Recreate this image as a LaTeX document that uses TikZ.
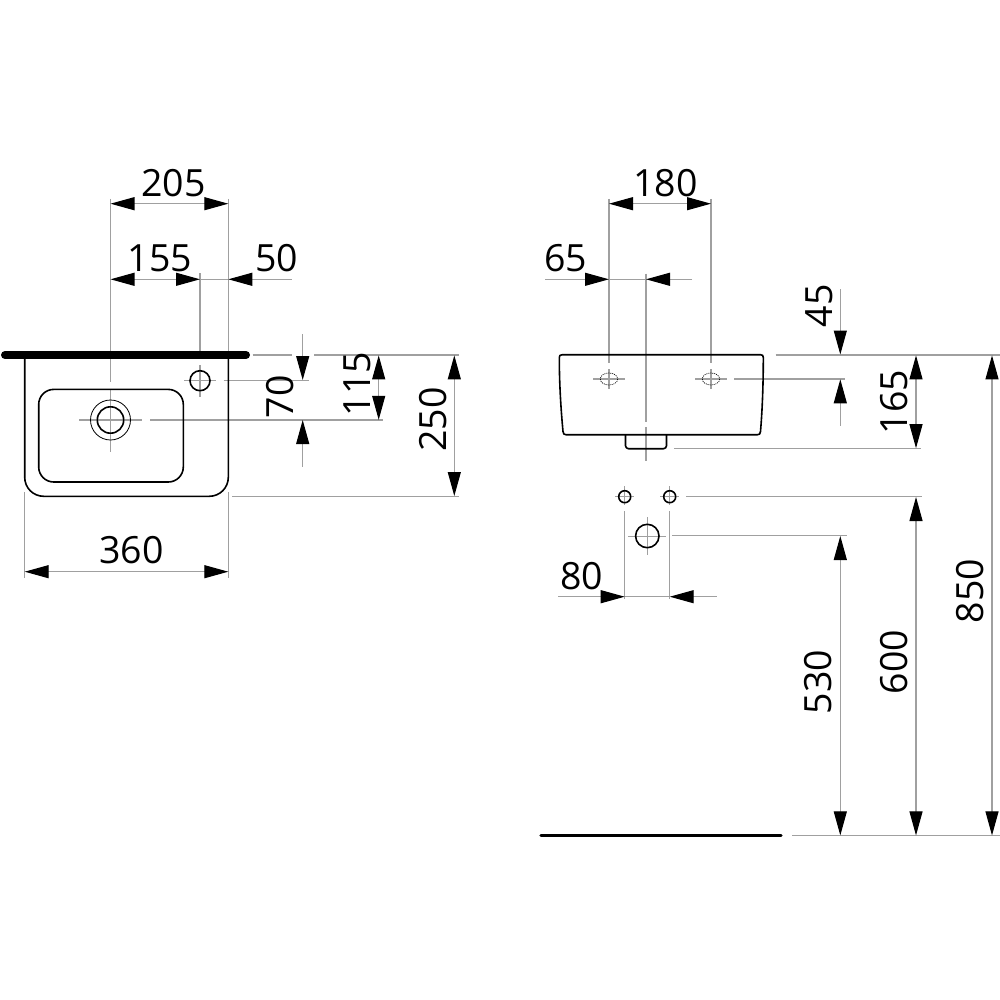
\documentclass[tikz,border=0pt]{standalone}
\usepackage{fontspec}
\setmainfont{Open Sans}
\usetikzlibrary{arrows.meta}
\definecolor{dimgrey}{HTML}{A0A0A0}
\tikzset{
  x=1pt,y=-1pt,
  ext/.style={draw=dimgrey,line width=1.1pt},
  fine/.style={draw=dimgrey,line width=0.8pt},
  tip/.tip={Triangle[length=24pt,width=13pt,color=black,fill=black]},
  dimboth/.style={ext,tip-tip,shorten >=0pt,shorten <=0pt},
  dimto/.style={ext,-tip},
  outline/.style={draw=black,line width=1.6pt,line join=round},
  thin outline/.style={draw=black,line width=0.8pt},
  dotted outline/.style={draw=black,line width=0.7pt,dash pattern=on 1pt off 1pt},
  num/.style={inner sep=0pt,font=\fontsize{37.5}{40}\selectfont},
  vnum/.style={num,rotate=90},
}
\begin{document}
\begin{tikzpicture}
\useasboundingbox[fill=white] (0,0) rectangle (1000,1000);

%% ---------- left view: plan ----------
\draw[ext] (110.5,199) -- (110.5,382);
\draw[ext] (228.3,199) -- (228.3,355);
\draw[ext] (200,273) -- (200,355);
\draw[ext] (24.7,492) -- (24.7,578);
\draw[ext] (228.3,492) -- (228.3,578);
% axes
\draw[ext] (79,420) -- (142,420);
\draw[ext] (150,420) -- (382.7,420);
\draw[ext] (110.5,390) -- (110.5,451.7);
\draw[ext] (184.3,380.7) -- (215.7,380.7);
\draw[ext] (223.7,380.7) -- (308.7,380.7);
\draw[ext] (200,365) -- (200,396.7);
\draw[ext] (252.7,355) -- (291.7,355);
\draw[ext] (314,355) -- (459,355);
\draw[ext] (232,496.3) -- (459,496.3);
% basin
\draw[outline,rounded corners=19pt] (24.7,355) -- (24.7,496.3) -- (228.3,496.3) -- (228.3,355);
\draw[outline,rounded corners=15pt] (110,389.4) -- (183.3,389.4) -- (183.3,482) -- (38.7,482) -- (38.7,389.4) -- cycle;
\draw[outline] (110.5,420) circle (13.2);
\draw[thin outline] (110.5,420) circle (20);
\draw[outline] (200,380.7) circle (10);
\draw[black,line width=8pt,line cap=round] (5,355) -- (246,355);
% dimensions
\draw[dimboth] (110.5,203.7) -- (228.3,203.7);
\draw[dimboth] (110.5,279.3) -- (200,279.3);
\draw[ext] (200,279.3) -- (228.3,279.3);
\draw[dimto] (291.7,279.3) -- (228.3,279.3);
\draw[dimboth] (24.7,571.7) -- (228.3,571.7);
\draw[dimto] (302.7,334) -- (302.7,380);
\draw[dimto] (302.7,466.7) -- (302.7,420);
\draw[dimboth] (378.7,355.4) -- (378.7,419.8);
\draw[dimboth] (454.3,355.4) -- (454.3,496);
\node[num] (t205) at (173.5,183) {205};
\node[num] (t155) at (160,258) {155};
\node[num] (t50) at (276.5,258) {50};
\node[num] (t360) at (131.5,550.5) {360};
\node[vnum] (t70) at (280.5,397) {70};
\node[vnum] (t115) at (357,384) {115};
\node[vnum] (t250) at (433,419.5) {250};

%% ---------- right view: elevation ----------
\draw[ext] (609,199) -- (609,362.7);
\draw[ext] (711,199) -- (711,362.7);
\draw[ext] (646,273.7) -- (646,421.7);
\draw[ext] (646,427) -- (646,460.7);
\draw[ext] (593.3,379) -- (625,379);
\draw[ext] (609,369.3) -- (609,388.7);
\draw[ext] (695,379) -- (726.7,379);
\draw[ext] (711,369.3) -- (711,388.7);
\draw[ext] (734,379) -- (845,379);
\draw[ext] (775.7,355) -- (1000,355);
\draw[ext] (674,448.3) -- (920.7,448.3);
\draw[ext] (686,496.3) -- (921.7,496.3);
\draw[ext] (672,535.7) -- (846.7,535.7);
\draw[ext] (792.3,835.7) -- (1000,835.7);
\draw[outline] (562.5,354.7) -- (760.3,354.7)
   .. controls (762.5,354.7) and (763.3,355.5) .. (763.3,357.5)
   .. controls (763.3,385) and (762.3,410) .. (760.5,431.5)
   .. controls (760.2,434) and (759.5,434.7) .. (757.5,434.7) -- (566,434.7)
   .. controls (564,434.7) and (563.3,434) .. (563,431.5)
   .. controls (561,410) and (559.3,385) .. (559.3,357.5)
   .. controls (559.3,355.5) and (560,354.7) .. (562.5,354.7) -- cycle;
\draw[outline,rounded corners=3pt] (625.5,434.7) -- (625.5,448.7) -- (666.5,448.7) -- (666.5,434.7);
\draw[dotted outline] (609,379) ellipse (8.7 and 6);
\draw[dotted outline] (711,379) ellipse (8.7 and 6);
% wall fixing points
\draw[fine] (615,496.7) -- (634,496.7);
\draw[fine] (624.7,486) -- (624.7,505);
\draw[fine] (660,496.7) -- (679,496.7);
\draw[fine] (669.7,486) -- (669.7,505);
\draw[fine] (628.3,536) -- (666,536);
\draw[fine] (647.3,517.3) -- (647.3,555);
\draw[outline] (624.7,496.7) circle (6);
\draw[outline] (669.7,496.7) circle (6);
\draw[outline] (647.3,536) circle (11.7);
\draw[ext] (624.7,511) -- (624.7,599);
\draw[ext] (669.7,511) -- (669.7,599);
\draw[black,line width=3.2pt,line cap=round] (541,835.3) -- (781,835.3);
% dimensions
\draw[dimboth] (609,203.7) -- (711,203.7);
\draw[dimto] (545,279.3) -- (609,279.3);
\draw[ext] (609,279.3) -- (646,279.3);
\draw[dimto] (692,279.3) -- (646,279.3);
\draw[dimto] (840.3,289) -- (840.3,354.5);
\draw[dimto] (840.3,425.7) -- (840.3,379.3);
\draw[dimboth] (916,355.4) -- (916,448.2);
\draw[dimto] (558,596.7) -- (624.7,596.7);
\draw[ext] (624.7,596.7) -- (669.7,596.7);
\draw[dimto] (716.7,596.7) -- (669.7,596.7);
\draw[dimboth] (840.3,536) -- (840.3,835.4);
\draw[dimboth] (916,497) -- (916,835.4);
\draw[dimboth] (992,355.4) -- (992,835.4);
\node[num] (t180) at (665.5,183) {180};
\node[num] (t65) at (565.5,258) {65};
\node[num] (t80) at (581.5,576) {80};
\node[vnum] (t45) at (819,306) {45};
\node[vnum] (t165) at (894,402) {165};
\node[vnum] (t530) at (818.5,682) {530};
\node[vnum] (t600) at (894,662) {600};
\node[vnum] (t850) at (970,591) {850};
\end{tikzpicture}
\end{document}
